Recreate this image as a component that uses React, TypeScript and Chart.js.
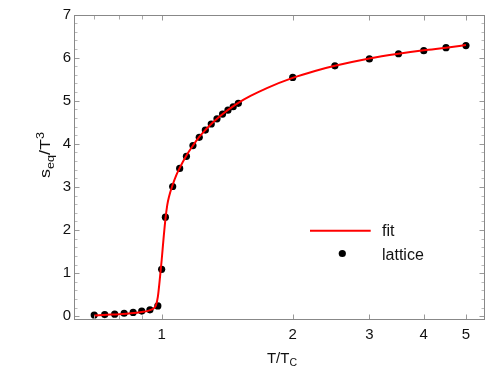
import React, { useEffect, useRef } from "react";
import { Chart, registerables } from "chart.js";

Chart.register(...registerables);

// Lattice data (T/Tc, s/T^3)
const latticeT = [0.70, 0.74, 0.78, 0.82, 0.86, 0.90, 0.94, 0.98, 1.00, 1.02, 1.06, 1.10, 1.14, 1.18, 1.22, 1.26, 1.30, 1.34, 1.38, 1.42, 1.46, 1.50, 2.0, 2.5, 3.0, 3.5, 4.0, 4.5, 5.0];
const latticeS = [0.03, 0.04, 0.05, 0.07, 0.09, 0.12, 0.15, 0.24, 1.09, 2.30, 3.01, 3.43, 3.71, 3.96, 4.15, 4.32, 4.46, 4.58, 4.69, 4.78, 4.86, 4.94, 5.54, 5.81, 5.97, 6.09, 6.16, 6.23, 6.28];

// Fit curve
const fitT = [0.70, 0.75, 0.80, 0.85, 0.90, 0.93, 0.95, 0.96, 0.97, 0.98, 0.99, 1.00, 1.01, 1.02, 1.03, 1.04, 1.06, 1.08, 1.10, 1.14, 1.18, 1.22, 1.26, 1.30, 1.35, 1.40, 1.45, 1.50, 1.60, 1.75, 2.00, 2.25, 2.50, 3.00, 3.50, 4.00, 4.50, 5.00];
const fitS = [0.02, 0.035, 0.05, 0.07, 0.10, 0.125, 0.16, 0.19, 0.25, 0.45, 0.85, 1.30, 1.80, 2.25, 2.58, 2.78, 3.05, 3.27, 3.44, 3.73, 3.96, 4.16, 4.32, 4.46, 4.61, 4.74, 4.85, 4.95, 5.11, 5.30, 5.53, 5.69, 5.81, 5.98, 6.09, 6.17, 6.23, 6.29];

const xMajorTicks = [1, 2, 3, 4, 5];
const xMinorTicks = [0.7, 0.8, 0.9];
const yMajorTicks = [0, 1, 2, 3, 4, 5, 6, 7];
const yMinorStep = 0.2;

const X_MIN = 0.629;
const X_MAX = 5.53;
const Y_MIN = -0.086;
const Y_MAX = 7;

const FONT = "'Liberation Sans', Arial, sans-serif";

type Part = { text: string; size: number; dy: number };

function richWidth(ctx: CanvasRenderingContext2D, parts: Part[]) {
  let w = 0;
  for (const p of parts) {
    ctx.font = `${p.size}px ${FONT}`;
    w += ctx.measureText(p.text).width;
  }
  return w;
}

function drawRich(ctx: CanvasRenderingContext2D, parts: Part[], x: number, y: number) {
  let cx = x;
  for (const p of parts) {
    ctx.font = `${p.size}px ${FONT}`;
    ctx.fillText(p.text, cx, y + p.dy);
    cx += ctx.measureText(p.text).width;
  }
}

function seg(ctx: CanvasRenderingContext2D, x1: number, y1: number, x2: number, y2: number, color: string) {
  ctx.strokeStyle = color;
  ctx.lineWidth = 1;
  ctx.beginPath();
  ctx.moveTo(x1, y1);
  ctx.lineTo(x2, y2);
  ctx.stroke();
}

const framePlugin = {
  id: "mmaFrame",
  afterDraw(chart: any) {
    const ctx: CanvasRenderingContext2D = chart.ctx;
    const xs = chart.scales.x;
    const ys = chart.scales.y;
    ctx.save();
    const fl = Math.round(xs.getPixelForValue(X_MIN)) + 0.5;
    const fr = Math.round(xs.getPixelForValue(X_MAX)) - 0.5;
    const ft = Math.round(ys.getPixelForValue(Y_MAX)) + 0.5;
    const fb = Math.round(ys.getPixelForValue(Y_MIN)) - 0.5;

    const majLen = 5;
    const minLen = 3;
    for (const v of xMajorTicks) {
      const px = Math.round(xs.getPixelForValue(v)) + 0.5;
      seg(ctx, px, ft, px, ft + majLen, "#999999");
      seg(ctx, px, fb, px, fb - majLen, "#999999");
    }
    for (const v of xMinorTicks) {
      const px = Math.round(xs.getPixelForValue(v)) + 0.5;
      seg(ctx, px, ft, px, ft + majLen - 1, "#aaaaaa");
      seg(ctx, px, fb, px, fb - majLen + 1, "#aaaaaa");
    }
    for (const v of yMajorTicks) {
      const py = Math.round(ys.getPixelForValue(v)) + 0.5;
      seg(ctx, fl, py, fl + majLen, py, "#999999");
      seg(ctx, fr, py, fr - majLen, py, "#999999");
    }
    for (let k = 1; k * yMinorStep < Y_MAX; k++) {
      const v = k * yMinorStep;
      if (Math.abs(v - Math.round(v)) < 1e-6) continue;
      const py = Math.round(ys.getPixelForValue(v)) + 0.5;
      seg(ctx, fl, py, fl + minLen, py, "#bbbbbb");
      seg(ctx, fr, py, fr - minLen, py, "#bbbbbb");
    }

    // frame
    ctx.strokeStyle = "#888888";
    ctx.lineWidth = 1;
    ctx.strokeRect(fl, ft, fr - fl, fb - ft);

    // axis titles
    ctx.fillStyle = "#111111";
    ctx.textBaseline = "alphabetic";
    ctx.textAlign = "left";
    const xParts: Part[] = [
      { text: "T/T", size: 15, dy: 0 },
      { text: "C", size: 10.5, dy: 3 },
    ];
    const xw = richWidth(ctx, xParts);
    drawRich(ctx, xParts, 282 - xw / 2, 362.5);

    const yParts: Part[] = [
      { text: "s", size: 15, dy: 0 },
      { text: "eq", size: 10.5, dy: 3.5 },
      { text: "/T", size: 15, dy: 0 },
      { text: "3", size: 10.5, dy: -6.5 },
    ];
    const yw = richWidth(ctx, yParts);
    ctx.save();
    ctx.translate(50, 155);
    ctx.rotate(-Math.PI / 2);
    ctx.scale(1.2, 1);
    drawRich(ctx, yParts, -yw / 2, 0);
    ctx.restore();

    // legend
    const dsFit = chart.data.datasets[0];
    const dsLat = chart.data.datasets[1];
    ctx.strokeStyle = dsFit.borderColor;
    ctx.lineWidth = 2;
    ctx.beginPath();
    ctx.moveTo(310, 230.7);
    ctx.lineTo(370.7, 230.7);
    ctx.stroke();
    ctx.fillStyle = dsLat.backgroundColor;
    ctx.beginPath();
    ctx.arc(342.3, 253.5, 3.6, 0, Math.PI * 2);
    ctx.fill();
    ctx.fillStyle = "#111111";
    ctx.font = `16px ${FONT}`;
    ctx.fillText(dsFit.label, 382, 235.7);
    ctx.fillText(dsLat.label, 382, 259.8);
    ctx.restore();
  },
};

export default function App() {
  const ref = useRef<HTMLCanvasElement | null>(null);
  useEffect(() => {
    document.body.style.margin = "0";
    const canvas = ref.current;
    if (!canvas) return;
    const chart = new Chart(canvas, {
      type: "scatter",
      data: {
        datasets: [
          {
            label: "fit",
            data: fitT.map((t, i) => ({ x: t, y: fitS[i] })),
            showLine: true,
            borderColor: "#ff0000",
            backgroundColor: "#ff0000",
            borderWidth: 2,
            pointRadius: 0,
            cubicInterpolationMode: "monotone",
          } as any,
          {
            label: "lattice",
            data: latticeT.map((t, i) => ({ x: t, y: latticeS[i] })),
            showLine: false,
            borderColor: "#000000",
            backgroundColor: "#000000",
            pointRadius: 3.6,
            pointBorderWidth: 0,
          } as any,
        ],
      },
      options: {
        animation: false,
        responsive: false,
        devicePixelRatio: 1,
        layout: { padding: { left: 0, top: 14.5, right: 13, bottom: 0 } },
        plugins: { legend: { display: false }, tooltip: { enabled: false } },
        scales: {
          x: {
            type: "logarithmic",
            bounds: "data",
            min: X_MIN,
            max: X_MAX,
            grid: { display: false, drawTicks: false, tickLength: 0 },
            border: { display: false },
            afterBuildTicks: (s: any) => {
              s.ticks = xMajorTicks.map((v) => ({ value: v }));
            },
            afterFit: (s: any) => {
              s.height = 63;
            },
            ticks: {
              autoSkip: false,
              maxRotation: 0,
              padding: 6,
              color: "#111111",
              font: { family: FONT, size: 15 },
              callback: (v: any) => String(v),
            },
          },
          y: {
            type: "linear",
            bounds: "data",
            min: Y_MIN,
            max: Y_MAX,
            grid: { display: false, drawTicks: false, tickLength: 0 },
            border: { display: false },
            afterBuildTicks: (s: any) => {
              s.ticks = yMajorTicks.map((v) => ({ value: v }));
            },
            afterFit: (s: any) => {
              s.width = 74;
            },
            ticks: {
              padding: 3,
              color: "#111111",
              font: { family: FONT, size: 15 },
              callback: (v: any) => String(v),
            },
          },
        },
      } as any,
      plugins: [framePlugin],
    });
    return () => chart.destroy();
  }, []);
  return (
    <div style={{ width: 498, height: 383 }}>
      <canvas ref={ref} width={498} height={383} style={{ display: "block" }} />
    </div>
  );
}
